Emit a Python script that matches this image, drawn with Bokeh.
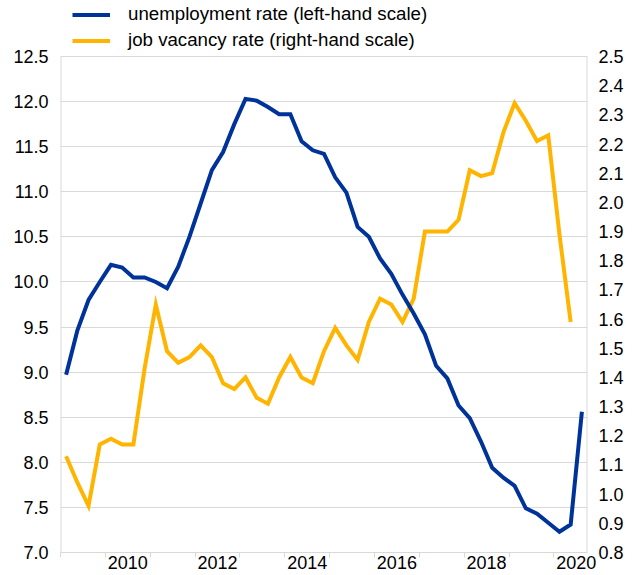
from bokeh.plotting import figure
from bokeh.models import (Range1d, LinearAxis, FixedTicker, Legend, LegendItem,
                          NumeralTickFormatter, ColumnDataSource)
from bokeh.embed import file_html
from bokeh.resources import INLINE

# Quarterly observations, 2009Q1 .. 2020Q3
quarters = [f"{y}Q{q}" for y in range(2009, 2021) for q in range(1, 5)][:47]

unemployment = [8.97, 9.46, 9.80, 10.00, 10.19, 10.16, 10.05, 10.05, 10.00, 9.93,
                10.17, 10.50, 10.87, 11.24, 11.44, 11.75, 12.03, 12.01, 11.94, 11.86,
                11.86, 11.56, 11.46, 11.42, 11.16, 10.99, 10.61, 10.50, 10.26, 10.09,
                9.86, 9.65, 9.42, 9.07, 8.93, 8.63, 8.49, 8.23, 7.94, 7.83,
                7.74, 7.49, 7.43, 7.33, 7.23, 7.31, 8.56]

vacancy = [1.13, 1.04, 0.96, 1.17, 1.19, 1.17, 1.17, 1.43, 1.65, 1.49,
           1.45, 1.47, 1.51, 1.47, 1.38, 1.36, 1.40, 1.33, 1.31, 1.40,
           1.47, 1.40, 1.38, 1.49, 1.57, 1.51, 1.46, 1.59, 1.67, 1.65,
           1.59, 1.67, 1.90, 1.90, 1.90, 1.94, 2.11, 2.09, 2.10, 2.24,
           2.34, 2.28, 2.21, 2.23, 1.89, 1.59]

year_labels = ["2010", "2012", "2014", "2016", "2018", "2020"]
tick_years = [str(y) for y in range(2009, 2021)]
left_ticks = [7.0, 7.5, 8.0, 8.5, 9.0, 9.5, 10.0, 10.5, 11.0, 11.5, 12.0, 12.5]
right_ticks = [0.8, 0.9, 1.0, 1.1, 1.2, 1.3, 1.4, 1.5, 1.6, 1.7, 1.8, 1.9,
               2.0, 2.1, 2.2, 2.3, 2.4, 2.5]

series_names = ["unemployment rate (left-hand scale)",
                "job vacancy rate (right-hand scale)"]

BLUE = "#003399"
YELLOW = "#FFB400"
GRID = "#d9d9d9"
FONT = "Liberation Sans"
TEXT = "#000000"

W, H = 639, 575
BOTTOM = 23          # space for the year labels
LEGEND_SPACE = 56    # px between canvas top and the 12.5 / 2.5 gridline
DATA_H = H - BOTTOM - LEGEND_SPACE


def extended_top(lo, hi):
    # stretch the range so that the plotted area leaves room for the legend
    return hi + (hi - lo) * LEGEND_SPACE / DATA_H


x_index = {q: i for i, q in enumerate(quarters)}
label_pos = [x_index[y + "Q1"] + 1.5 for y in year_labels]
boundary_pos = [x_index[y + "Q1"] - 0.5 for y in tick_years]

src_u = ColumnDataSource(dict(x=list(range(len(unemployment))), y=unemployment))
src_v = ColumnDataSource(dict(x=list(range(len(vacancy))), y=vacancy))

x_lo, x_hi = -0.5, len(quarters) - 0.5
p = figure(width=W, height=H, output_backend="svg", toolbar_location=None,
           x_range=Range1d(x_lo, x_hi),
           y_range=Range1d(left_ticks[0], extended_top(left_ticks[0], left_ticks[-1])),
           min_border_left=60, min_border_right=52, min_border_top=0,
           min_border_bottom=BOTTOM)
p.title.visible = False
p.extra_y_ranges = {"right": Range1d(right_ticks[0],
                                     extended_top(right_ticks[0], right_ticks[-1]))}
p.outline_line_color = None
p.background_fill_color = "white"
p.border_fill_color = "white"

# x axis
xa = p.xaxis[0]
xa.ticker = FixedTicker(ticks=label_pos, minor_ticks=boundary_pos)
xa.major_label_overrides = {pos: lab for pos, lab in zip(label_pos, year_labels)}
xa.axis_line_color = GRID
xa.major_tick_out = 0
xa.major_tick_in = 0
xa.minor_tick_out = 5
xa.minor_tick_in = 0
xa.minor_tick_line_color = GRID
xa.major_label_standoff = -2
xa.major_label_text_font = FONT
xa.major_label_text_font_size = "18px"
xa.major_label_text_color = TEXT

# left axis
ya = p.yaxis[0]
ya.ticker = FixedTicker(ticks=left_ticks)
ya.formatter = NumeralTickFormatter(format="0.0")
ya.axis_line_color = None
ya.major_tick_out = 0
ya.major_tick_in = 0
ya.minor_tick_line_color = None
ya.major_label_standoff = 12
ya.major_label_text_font = FONT
ya.major_label_text_font_size = "18px"
ya.major_label_text_color = TEXT

# right axis
ra = LinearAxis(y_range_name="right", ticker=FixedTicker(ticks=right_ticks),
                formatter=NumeralTickFormatter(format="0.0"))
ra.axis_line_color = None
ra.major_tick_out = 0
ra.major_tick_in = 0
ra.minor_tick_line_color = None
ra.major_label_standoff = 11
ra.major_label_text_font = FONT
ra.major_label_text_font_size = "18px"
ra.major_label_text_color = TEXT
p.add_layout(ra, "right")

p.xgrid.visible = False
p.ygrid.ticker = FixedTicker(ticks=left_ticks)
p.ygrid.grid_line_color = GRID
p.ygrid.grid_line_width = 1

# vertical axis lines, only over the scale's extent
p.segment(x0=[x_lo, x_hi], y0=[left_ticks[0]] * 2, x1=[x_lo, x_hi],
          y1=[left_ticks[-1]] * 2, line_color=GRID, line_width=2)

r_v = p.line("x", "y", source=src_v, y_range_name="right", line_color=YELLOW,
             line_width=4, line_join="miter")
r_u = p.line("x", "y", source=src_u, line_color=BLUE, line_width=4,
             line_join="miter")

legend = Legend(items=[LegendItem(label=series_names[0], renderers=[r_u]),
                       LegendItem(label=series_names[1], renderers=[r_v])],
                location=(12, DATA_H + 5), orientation="vertical",
                padding=0, margin=0, spacing=4,
                glyph_width=38, glyph_height=21, label_height=21,
                label_standoff=18, label_text_font=FONT,
                label_text_font_size="18.7px", label_text_color=TEXT,
                background_fill_alpha=0, border_line_color=None)
p.add_layout(legend, "center")

open("out.html", "w").write(file_html(p, INLINE))
